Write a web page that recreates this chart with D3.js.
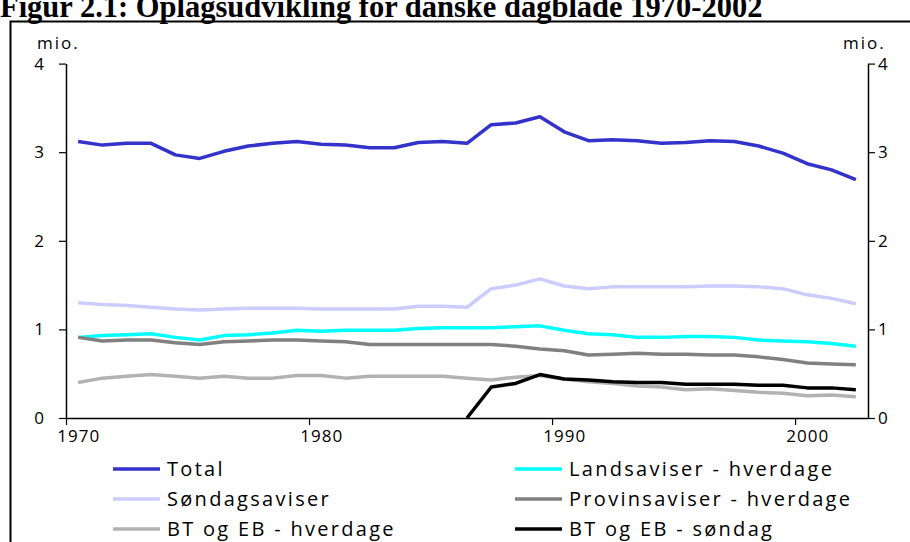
<!DOCTYPE html>
<html>
<head>
<meta charset="utf-8">
<script src="https://cdn.jsdelivr.net/npm/d3@7"></script>
<style>
  html, body { margin: 0; padding: 0; background: #fff; overflow: hidden; }
  svg text { font-family: "Open Sans", "DejaVu Sans", sans-serif; fill: #000; }
</style>
</head>
<body>
<svg id="canvas"></svg>
<script>
let years = d3.range(1970, 2003);

let total = [3.12, 3.08, 3.10, 3.10, 2.97, 2.93, 3.01, 3.07, 3.10, 3.12, 3.09, 3.08, 3.05, 3.05, 3.11, 3.12, 3.10,
    3.31, 3.33, 3.40, 3.23, 3.13, 3.14, 3.13, 3.10, 3.11, 3.13, 3.12, 3.07, 2.99, 2.87, 2.80, 2.69];
let landsaviser = [0.91, 0.93, 0.94, 0.95, 0.91, 0.88, 0.93, 0.94, 0.96, 0.99, 0.98, 0.99, 0.99, 0.99, 1.01, 1.02, 1.02,
    1.02, 1.03, 1.04, 0.99, 0.95, 0.94, 0.91, 0.91, 0.92, 0.92, 0.91, 0.88, 0.87, 0.86, 0.84, 0.81];
let sondagsaviser = [1.30, 1.28, 1.27, 1.25, 1.23, 1.22, 1.23, 1.24, 1.24, 1.24, 1.23, 1.23, 1.23, 1.23, 1.26, 1.26, 1.25,
    1.46, 1.50, 1.57, 1.49, 1.46, 1.48, 1.48, 1.48, 1.48, 1.49, 1.49, 1.48, 1.46, 1.39, 1.35, 1.29];
let provinsaviser = [0.91, 0.87, 0.88, 0.88, 0.85, 0.83, 0.86, 0.87, 0.88, 0.88, 0.87, 0.86, 0.83, 0.83, 0.83, 0.83, 0.83,
    0.83, 0.81, 0.78, 0.76, 0.71, 0.72, 0.73, 0.72, 0.72, 0.71, 0.71, 0.69, 0.66, 0.62, 0.61, 0.60];
let btHverdage = [0.40, 0.45, 0.47, 0.49, 0.47, 0.45, 0.47, 0.45, 0.45, 0.48, 0.48, 0.45, 0.47, 0.47, 0.47, 0.47, 0.45,
    0.43, 0.46, 0.48, 0.44, 0.41, 0.39, 0.36, 0.35, 0.32, 0.33, 0.31, 0.29, 0.28, 0.25, 0.26, 0.24];
let btSondag = [null, null, null, null, null, null, null, null, null, null, null, null, null, null, null, null, 0,
    0.35, 0.39, 0.49, 0.44, 0.43, 0.41, 0.40, 0.40, 0.38, 0.38, 0.38, 0.37, 0.37, 0.34, 0.34, 0.32];

let seriesNames = ['Total', 'Landsaviser - hverdage', 'Søndagsaviser', 'Provinsaviser - hverdage',
    'BT og EB - hverdage', 'BT og EB - søndag'];
let seriesColors = ['#3333cc', '#00ffff', '#ccccff', '#808080', '#b2b2b2', '#000000'];
let seriesValues = [total, landsaviser, sondagsaviser, provinsaviser, btHverdage, btSondag];
let drawOrder = [0, 2, 1, 3, 4, 5];

let xTicks = [1970, 1980, 1990, 2000];
let yTicks = [0, 1, 2, 3, 4];

let width = 910;
let height = 542;

let canvas = d3.select('#canvas')
    .attr('width', width)
    .attr('height', height);

let xScale = d3.scaleLinear()
    .domain([1970, 2003])
    .range([66, 868]);

let yScale = d3.scaleLinear()
    .domain([0, 4])
    .range([418, 63.6]);

// title, cut off at the top like the scanned page
canvas.append('text')
    .attr('x', 0)
    .attr('y', 17)
    .style('font-family', '"Liberation Serif", "Times New Roman", serif')
    .style('font-weight', 'bold')
    .style('font-size', '30.5px')
    .text('Figur 2.1: Oplagsudvikling for danske dagblade 1970-2002');

// frame
canvas.append('rect')
    .attr('x', 10.5)
    .attr('y', 21.5)
    .attr('width', 920)
    .attr('height', 540)
    .attr('fill', 'none')
    .attr('stroke', '#000')
    .attr('stroke-width', 2);

let styleAxis = g => {
    g.select('.domain').attr('stroke', '#000').attr('stroke-width', 1.5);
    g.selectAll('.tick line').attr('stroke', '#000').attr('stroke-width', 1.2);
    g.selectAll('.tick text')
        .style('font-size', '17px')
        .style('letter-spacing', '1px')
        .style('font-family', '"Open Sans", sans-serif');
};

let xAxis = d3.axisBottom(xScale)
    .tickValues(xTicks)
    .tickFormat(d3.format('d'))
    .tickSize(7)
    .tickSizeOuter(0)
    .tickPadding(5);

canvas.append('g')
    .attr('transform', `translate(0, ${yScale(0)})`)
    .call(xAxis)
    .call(styleAxis)
    .call(g => g.selectAll('.tick text').attr('x', xScale(1970.5) - xScale(1970)));

canvas.append('g')
    .attr('transform', `translate(${xScale(1970)}, 0)`)
    .call(d3.axisLeft(yScale).tickValues(yTicks).tickFormat(d3.format('d')).tickSize(7).tickSizeOuter(0).tickPadding(14))
    .call(styleAxis);

canvas.append('g')
    .attr('transform', `translate(${xScale(2003)}, 0)`)
    .call(d3.axisRight(yScale).tickValues(yTicks).tickFormat(d3.format('d')).tickSize(7).tickSizeOuter(0).tickPadding(3))
    .call(styleAxis);

// unit labels
canvas.append('text')
    .attr('x', 37)
    .attr('y', 49)
    .style('font-size', '17px')
    .style('letter-spacing', '2px')
    .text('mio.');

canvas.append('text')
    .attr('x', 843)
    .attr('y', 49)
    .style('font-size', '17px')
    .style('letter-spacing', '2px')
    .text('mio.');

let line = d3.line()
    .defined(d => d.value !== null)
    .x(d => xScale(d.year + 0.5))
    .y(d => yScale(d.value));

drawOrder.forEach(i => {
    let points = years.map((year, j) => ({ year: year, value: seriesValues[i][j] }));
    canvas.append('path')
        .datum(points)
        .attr('fill', 'none')
        .attr('stroke', seriesColors[i])
        .attr('stroke-width', 3.5)
        .attr('stroke-linejoin', 'round')
        .attr('d', line);
});

// legend, two columns
let legendCols = [113, 515];
let legendRows = [469, 499, 529];

let legend = canvas.selectAll('.legend')
    .data(seriesNames)
    .enter()
    .append('g')
    .attr('class', 'legend')
    .attr('transform', (d, i) => `translate(${legendCols[i % 2]}, ${legendRows[Math.floor(i / 2)]})`);

legend.append('line')
    .attr('x1', 0)
    .attr('x2', 47)
    .attr('y1', 0)
    .attr('y2', 0)
    .attr('stroke', (d, i) => seriesColors[i])
    .attr('stroke-width', 3.5);

legend.append('text')
    .attr('x', 54)
    .attr('y', 7)
    .style('font-size', '20px')
    .style('letter-spacing', '2.3px')
    .text(d => d);
</script>
</body>
</html>
